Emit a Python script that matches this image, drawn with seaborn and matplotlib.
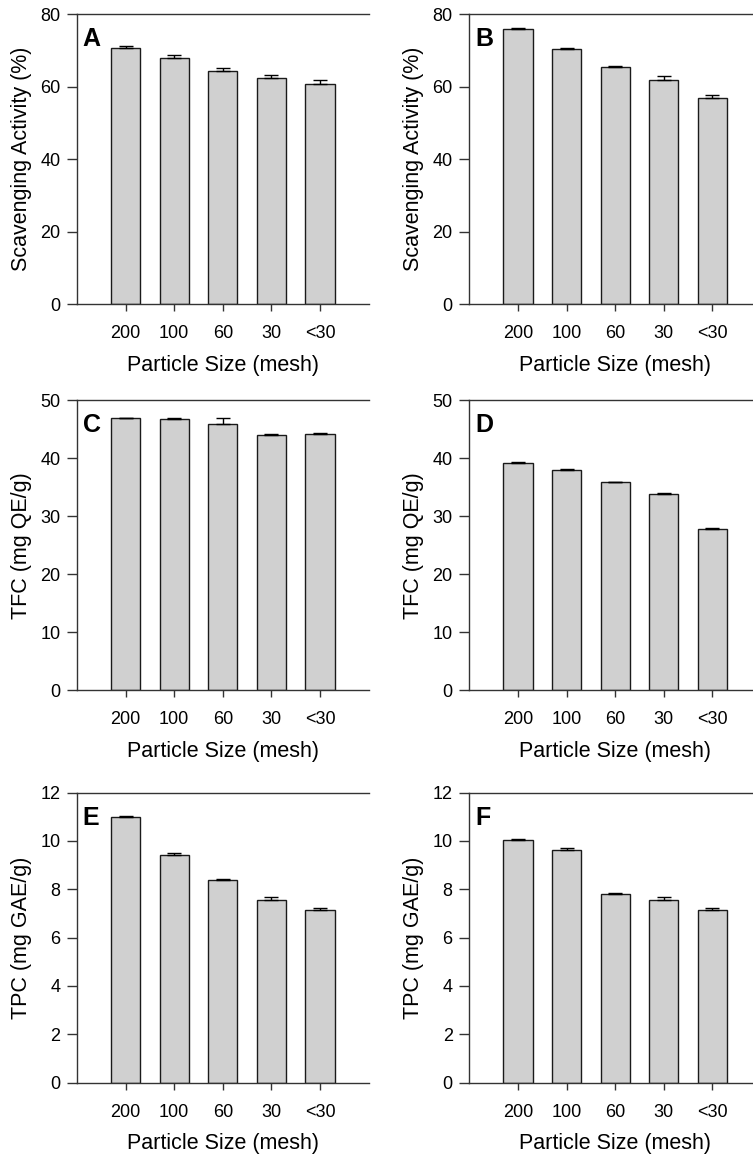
import matplotlib
matplotlib.use('Agg')
import matplotlib.pyplot as plt
import seaborn as sns
import pandas as pd

sns.set_theme(style='ticks')
plt.rcParams['font.family'] = ['Liberation Sans', 'DejaVu Sans']
plt.rcParams['text.color'] = 'black'
plt.rcParams['axes.labelcolor'] = 'black'

# particle size categories
sizes = ['200', '100', '60', '30', '<30']

# scavenging activity (%)
scav_a = [70.6, 68.0, 64.3, 62.5, 60.7]
scav_a_err = [0.7, 0.6, 0.9, 0.6, 1.0]
scav_b = [75.8, 70.3, 65.3, 61.7, 57.0]
scav_b_err = [0.5, 0.35, 0.5, 1.1, 0.6]

# total flavonoid content (mg QE/g)
tfc_c = [46.9, 46.7, 45.8, 44.0, 44.1]
tfc_c_err = [0.1, 0.2, 1.2, 0.2, 0.3]
tfc_d = [39.2, 38.0, 35.8, 33.8, 27.8]
tfc_d_err = [0.15, 0.1, 0.15, 0.15, 0.15]

# total phenolic content (mg GAE/g)
tpc_e = [11.0, 9.43, 8.40, 7.57, 7.15]
tpc_e_err = [0.03, 0.05, 0.03, 0.12, 0.08]
tpc_f = [10.04, 9.64, 7.79, 7.57, 7.15]
tpc_f_err = [0.04, 0.07, 0.06, 0.12, 0.08]

panels = [
    ('A', scav_a, scav_a_err, 'Scavenging Activity (%)', 80, 20),
    ('B', scav_b, scav_b_err, 'Scavenging Activity (%)', 80, 20),
    ('C', tfc_c, tfc_c_err, 'TFC (mg QE/g)', 50, 10),
    ('D', tfc_d, tfc_d_err, 'TFC (mg QE/g)', 50, 10),
    ('E', tpc_e, tpc_e_err, 'TPC (mg GAE/g)', 12, 2),
    ('F', tpc_f, tpc_f_err, 'TPC (mg GAE/g)', 12, 2),
]

fig = plt.figure(figsize=(7.53, 11.56), dpi=100)
lefts = [0.1023, 0.6233]
bottoms = [0.7368, 0.4029, 0.0634]
w, h = 0.3873, 0.2510

for i, (letter, vals, errs, ylab, ymax, step) in enumerate(panels):
    ax = fig.add_axes([lefts[i % 2], bottoms[i // 2], w, h])
    df = pd.DataFrame({'size': sizes, 'value': vals})
    sns.barplot(data=df, x='size', y='value', order=sizes, color='#d0d0d0',
                edgecolor='#1a1a1a', linewidth=1.0, width=0.6,
                errorbar=None, saturation=1, ax=ax)
    ax.errorbar(range(len(sizes)), vals, yerr=[[0] * len(errs), errs],
                fmt='none', ecolor='black', elinewidth=1.0, capsize=5,
                capthick=1.0)
    ax.set_xlim(-1, 5)
    ax.set_ylim(0, ymax)
    ax.set_yticks(range(0, ymax + 1, step))
    ax.set_xlabel('Particle Size (mesh)', fontsize=15.5, labelpad=9)
    ax.set_ylabel(ylab, fontsize=15.5, labelpad=6)
    ax.tick_params(axis='y', direction='out', length=7, width=1,
                   labelsize=13, colors='#333333', labelcolor='black', pad=5)
    ax.tick_params(axis='x', direction='out', length=5, width=1,
                   labelsize=13, colors='#333333', labelcolor='black', pad=10)
    for side in ['left', 'bottom', 'top']:
        ax.spines[side].set_visible(True)
        ax.spines[side].set_color('#333333')
        ax.spines[side].set_linewidth(1.0)
    ax.spines['right'].set_visible(False)
    ax.text(0.02, 0.955, letter, transform=ax.transAxes, fontsize=18,
            fontweight='bold', ha='left', va='top', color='black')

fig.savefig('out.png', dpi=100)
